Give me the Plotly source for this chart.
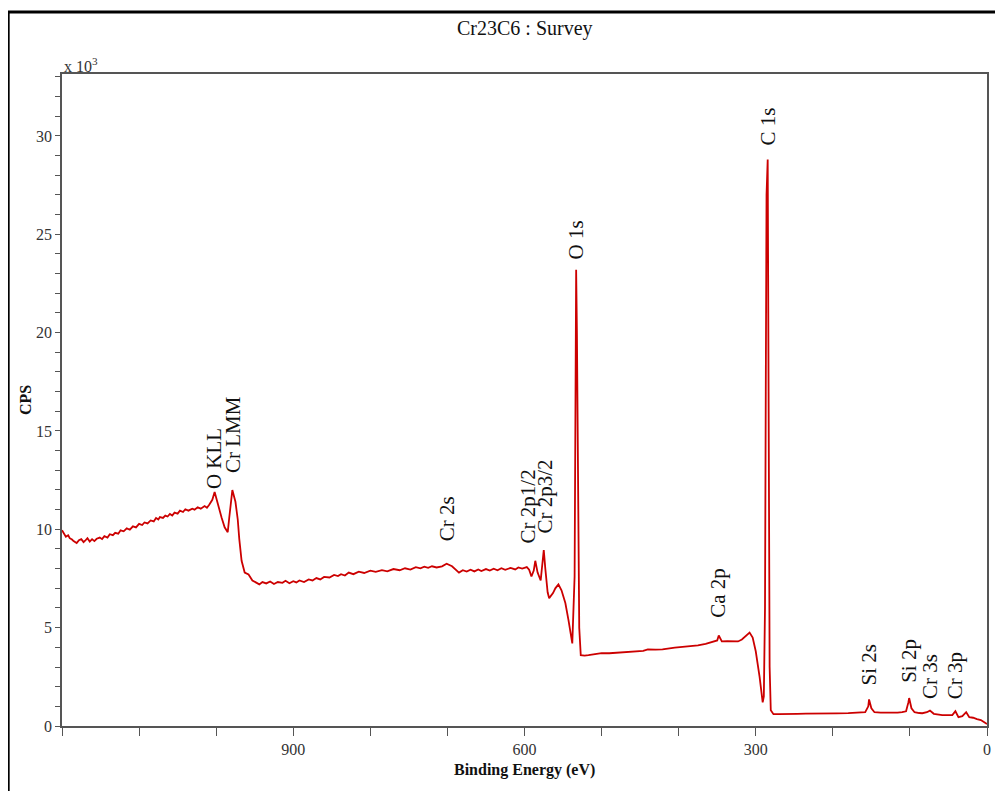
import plotly.graph_objects as go

# Binding energy (eV) and intensity (CPS x 10^3)
binding_energy = [
    1200, 1197, 1195, 1192, 1190, 1187, 1185, 1181, 1178, 1175, 1172, 1170, 1167, 1164, 1161, 1158, 1155,
    1151, 1148, 1145, 1141, 1138, 1134, 1131, 1127, 1124, 1120, 1116, 1112,
    1108, 1104, 1100, 1096, 1093, 1089, 1085, 1081, 1078, 1075, 1073, 1069, 1066, 1063, 1060, 1057, 1054,
    1050, 1047, 1043, 1040, 1036, 1031, 1028, 1024, 1020, 1015, 1012, 1009,
    1005, 1002, 998, 993, 989, 985, 983, 979, 975, 972, 970, 967, 963, 958, 953, 948, 944,
    940, 935, 930, 925, 920, 914, 910, 905, 900, 896, 892, 886, 880, 875, 870, 865, 860, 853, 847,
    842, 838, 833, 828, 822, 815, 808, 800, 793, 785, 778, 770, 762, 755, 748, 741,
    735, 730, 725, 720, 714, 707, 701, 694, 685, 680, 675, 670, 665, 660, 656, 650, 645, 640, 635, 630,
    625, 618, 612, 608, 603, 597, 594, 591,
    588, 586, 583, 579, 577, 575, 573, 570, 568, 563, 560, 556, 552, 547, 543, 540, 538,
    535, 534, 533, 532, 530, 529, 527, 522, 517, 510, 500, 490, 480, 470, 462, 453, 446,
    440, 430, 421, 414, 405, 395, 385, 375, 365, 356, 350, 348, 344, 337, 330, 323, 318,
    313, 308, 304, 300, 295, 291, 289.5, 288, 287, 286, 284.5, 283.5, 282, 280.5, 277,
    270, 260, 246, 235, 220, 207, 195, 180, 168, 158, 154, 153, 150, 146, 138, 128, 116,
    110, 105, 102, 101, 98, 94, 88, 84, 78, 74, 69, 63, 58, 50, 45, 41, 37, 32, 27, 23,
    18, 13, 8, 4, 0,
]
cps_k = [
    9.95, 9.75, 9.62, 9.70, 9.55, 9.48, 9.40, 9.30, 9.45, 9.50, 9.35, 9.42, 9.55, 9.38, 9.50, 9.40, 9.52,
    9.58, 9.50, 9.65, 9.58, 9.75, 9.70, 9.82, 9.78, 9.95, 9.90, 10.05, 9.98,
    10.15, 10.10, 10.28, 10.22, 10.35, 10.30, 10.45, 10.40, 10.58, 10.50, 10.62, 10.58, 10.70, 10.65, 10.78, 10.70, 10.85,
    10.80, 10.95, 10.88, 11.02, 10.95, 11.05, 11.00, 11.12, 11.05, 11.18, 11.10, 11.25,
    11.50, 11.90, 11.30, 10.60, 10.10, 9.85, 10.60, 12.00, 11.40, 10.50, 9.50, 8.40, 7.80, 7.70, 7.40, 7.30, 7.20,
    7.32, 7.25, 7.35, 7.22, 7.32, 7.28, 7.38, 7.26, 7.36, 7.30, 7.40, 7.32, 7.45, 7.40, 7.52, 7.45, 7.58, 7.55, 7.68,
    7.62, 7.72, 7.65, 7.80, 7.72, 7.85, 7.78, 7.90, 7.84, 7.92, 7.86, 7.98, 7.92, 8.02, 7.95, 8.08,
    8.02, 8.10, 8.04, 8.12, 8.06, 8.12, 8.25, 8.12, 7.80, 7.92, 7.85, 7.95, 7.86, 7.96, 7.88, 7.98, 7.90, 8.00, 7.92, 8.02,
    7.94, 8.04, 7.96, 8.06, 8.00, 8.08, 7.95, 7.60,
    7.90, 8.40, 7.80, 7.40, 8.30, 8.95, 8.00, 6.80, 6.50, 6.76, 7.00, 7.20, 6.90, 6.25, 5.40, 4.70, 4.20,
    7.60, 15.0, 23.2, 20.0, 12.0, 5.00, 3.60, 3.58, 3.60, 3.65, 3.70, 3.70, 3.72, 3.74, 3.76, 3.78, 3.82,
    3.90, 3.88, 3.90, 3.92, 3.98, 4.02, 4.06, 4.10, 4.18, 4.27, 4.35, 4.60, 4.30, 4.32, 4.30, 4.30, 4.40,
    4.57, 4.75, 4.50, 3.80, 2.50, 1.20, 1.50, 6.00, 17.0, 27.0, 28.8, 20.0, 3.00, 0.80, 0.60,
    0.60, 0.62, 0.62, 0.63, 0.62, 0.63, 0.64, 0.65, 0.66, 0.70, 1.00, 1.35, 0.90, 0.70, 0.68, 0.67, 0.68,
    0.70, 0.75, 1.20, 1.42, 0.90, 0.70, 0.66, 0.65, 0.70, 0.78, 0.62, 0.58, 0.55, 0.55, 0.55, 0.75, 0.45, 0.50, 0.70, 0.45,
    0.42, 0.35, 0.30, 0.20, 0.10,
]

# Peak labels and where their bases sit (binding energy, CPS x 10^3)
peak_labels = ["O KLL", "Cr LMM", "Cr 2s", "Cr 2p1/2", "Cr 2p3/2", "O 1s", "Ca 2p",
               "C 1s", "Si 2s", "Si 2p", "Cr 3s", "Cr 3p"]
peak_be = [1002, 979, 701, 595, 573, 533, 349, 284.5, 152.6, 101, 74, 41]
peak_base = [11.95, 12.75, 9.3, 9.2, 9.7, 23.6, 5.4, 29.4, 1.95, 2.1, 1.3, 1.25]

x_ticks = [900, 600, 300, 0]
y_ticks = [0, 5, 10, 15, 20, 25, 30]

SERIF = "Liberation Serif, Times New Roman, serif"
AX = "#555555"

fig = go.Figure()
fig.add_trace(go.Scatter(
    x=binding_energy, y=cps_k, mode="lines",
    line=dict(color="#cc0000", width=1.8),
    showlegend=False, hoverinfo="skip",
))

for t, be, b in zip(peak_labels, peak_be, peak_base):
    fig.add_annotation(
        x=be, y=b, xref="x", yref="y", text=t, showarrow=False,
        textangle=-90, xanchor="center", yanchor="bottom",
        font=dict(family=SERIF, size=21, color="#111111"),
    )

fig.add_annotation(x=0.5, y=1.0, xref="paper", yref="paper", yshift=46,
                   text="Cr23C6 : Survey", showarrow=False, xanchor="center", yanchor="middle",
                   font=dict(family=SERIF, size=20, color="#111111"))
fig.add_annotation(x=0.0, y=1.0, xref="paper", yref="paper", yshift=-3,
                   text="x 10<sup>3</sup>", showarrow=False, xanchor="left", yanchor="bottom",
                   font=dict(family=SERIF, size=16, color="#333333"))
fig.add_annotation(x=0.5, y=0.0, xref="paper", yref="paper", yshift=-44,
                   text="<b>Binding Energy (eV)</b>", showarrow=False, xanchor="center", yanchor="middle",
                   font=dict(family=SERIF, size=16, color="#111111"))
fig.add_annotation(x=0.0, y=0.5, xref="paper", yref="paper", xshift=-37,
                   text="<b>CPS</b>", showarrow=False, textangle=-90, xanchor="center", yanchor="middle",
                   font=dict(family=SERIF, size=16, color="#111111"))

# outer frame
fig.add_shape(type="rect", xref="paper", yref="paper",
              x0=-0.0582, x1=1.0108, y0=-0.2, y1=1.0951,
              line=dict(color="black", width=3), fillcolor="rgba(0,0,0,0)", layer="above")

# page body has an 8px margin, so the figure is sized/offset to fit the 1003x791 window
fig.update_layout(
    width=995, height=783,
    margin=dict(l=54, r=13, t=66, b=65),
    paper_bgcolor="white", plot_bgcolor="white",
    font=dict(family=SERIF, size=16, color="#333333"),
    xaxis=dict(
        range=[1200, 0], tickvals=x_ticks, ticktext=[str(v) for v in x_ticks],
        showgrid=False, zeroline=False, showline=True, linecolor=AX, linewidth=1.5, mirror=True,
        ticks="outside", ticklen=8, tickcolor=AX, tickwidth=1,
        minor=dict(dtick=100, tick0=0, ticks="outside", ticklen=8, tickcolor=AX, showgrid=False),
        tickfont=dict(family=SERIF, size=16, color="#333333"),
    ),
    yaxis=dict(
        range=[0, 33.15], tickvals=y_ticks, ticktext=[str(v) for v in y_ticks],
        showgrid=False, zeroline=False, showline=True, linecolor=AX, linewidth=1.5, mirror=True,
        ticks="outside", ticklen=5, tickcolor=AX, tickwidth=1,
        minor=dict(dtick=1, tick0=0, ticks="outside", ticklen=5, tickcolor=AX, showgrid=False),
        tickfont=dict(family=SERIF, size=16, color="#333333"),
    ),
)

fig.write_html("out.html")
